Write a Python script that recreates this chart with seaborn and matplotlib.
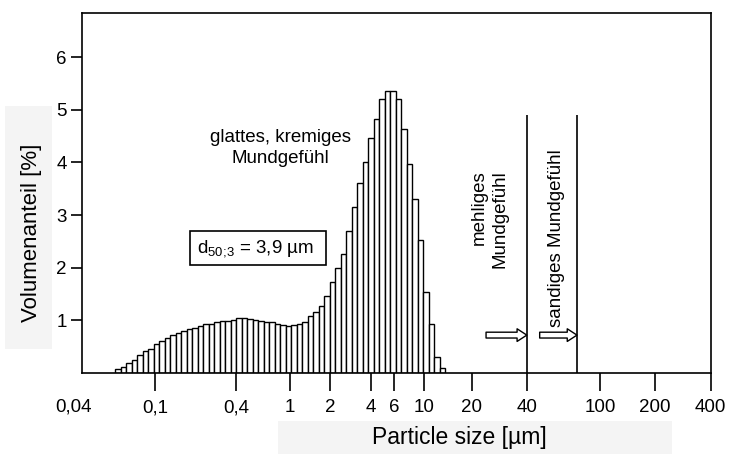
#-------------------------------------
# Particle size distribution (volume %)
# with mouthfeel regions
#-------------------------------------

#%%
import numpy as np
import pandas as pd
import matplotlib.pyplot as plt
from matplotlib.patches import Rectangle
import seaborn as sns

sns.set_theme(style = 'white')
plt.rcParams['font.family'] = ['Liberation Sans', 'DejaVu Sans']
plt.rcParams['mathtext.fontset'] = 'custom'
plt.rcParams['mathtext.rm'] = 'Liberation Sans'
plt.rcParams['mathtext.it'] = 'Liberation Sans:italic'

#%%

# Data: volume fraction per size class

volume = [0.08, 0.12, 0.19, 0.25, 0.34, 0.41, 0.45, 0.55, 0.60, 0.67,
          0.72, 0.76, 0.79, 0.83, 0.86, 0.90, 0.93, 0.93, 0.96, 0.98,
          0.98, 1.01, 1.04, 1.05, 1.02, 1.00, 0.98, 0.96, 0.96, 0.93,
          0.91, 0.90, 0.91, 0.93, 0.96, 1.09, 1.15, 1.28, 1.47, 1.73,
          1.99, 2.27, 2.69, 3.15, 3.61, 4.01, 4.47, 4.83, 5.20, 5.35,
          5.35, 5.20, 4.64, 3.98, 3.31, 2.53, 1.54, 0.93, 0.31, 0.09]

size_min = 0.05     # lower edge of first size class [µm]
size_max = 14.4     # upper edge of last size class [µm]

feel_limits = [40, 75]          # mehlig / sandig thresholds [µm]
arrow_starts = [24, 47]

x_ticks = [0.1, 0.4, 1, 2, 4, 6, 10, 20, 40, 100, 200, 400]
x_labels = ['0,1', '0,4', '1', '2', '4', '6', '10', '20', '40', '100', '200', '400']
y_ticks = [1, 2, 3, 4, 5, 6]

edges = np.geomspace(size_min, size_max, len(volume) + 1)
centers = np.sqrt(edges[:-1] * edges[1:])
d = pd.DataFrame({'size': centers, 'volume': volume})

#%%

# Axis is logarithmic up to the end of the distribution, then stretched

lb = np.log10(size_max)
k = 1.368

def fwd(x):
    lx = np.log10(np.maximum(x, 1e-300))
    return np.where(lx <= lb, lx, lb + k * (lx - lb))

def inv(y):
    return np.where(y <= lb, 10.0 ** y, 10.0 ** (lb + (y - lb) / k))

#%%

# Make plot (histogram binned on the linear axis, scale switched afterwards)

fig = plt.figure(figsize = (7.31, 4.54), dpi = 100)
ax = fig.add_axes([0.1122, 0.1784, 0.8598, 0.7930])

sns.histplot(data = d, x = 'size', weights = 'volume', bins = edges.tolist(), color = 'white',
             edgecolor = 'black', linewidth = 1.0, alpha = 1, ax = ax)

ax.set_xscale('function', functions = (fwd, inv))

ax.vlines(feel_limits, 0, 4.9, color = 'black', lw = 1.2)

for start, stop in zip(arrow_starts, feel_limits):
    ax.annotate('', xy = (stop, 0.72), xytext = (start, 0.72),
                arrowprops = dict(arrowstyle = 'simple,head_length=1.0,head_width=1.3,tail_width=0.6',
                                  fc = 'white', ec = 'black', lw = 1.0, mutation_scale = 7,
                                  shrinkA = 0, shrinkB = 0))

ax.set_xlim(0.0284, 400)
ax.set_ylim(0, 6.84)
ax.set_xticks(x_ticks)
ax.set_xticklabels(x_labels)
ax.set_yticks(y_ticks)
ax.minorticks_off()

ax.tick_params(axis = 'x', bottom = True, direction = 'out', length = 13, width = 1.2,
               pad = 6, labelsize = 13.5, colors = 'black')
ax.tick_params(axis = 'y', left = True, direction = 'out', length = 8, width = 1.2,
               pad = 3, labelsize = 13.5, colors = 'black')
for s in ax.spines.values():
    s.set_color('black')
    s.set_linewidth(1.2)

ax.text(-0.013, -0.07, '0,04', transform = ax.transAxes, ha = 'center', va = 'top',
        fontsize = 13.5, color = 'black')

# Annotations

ax.text(0.857, 4.27, 'glattes, kremiges\nMundgefühl', ha = 'center', va = 'center',
        fontsize = 13.5, color = 'black', linespacing = 1.3)
ax.text(0.2025, 2.37, r'd$_{\mathregular{50;\!3}}$ = 3,9 µm  ', ha = 'left', va = 'center',
        fontsize = 13.5, color = 'black',
        bbox = dict(boxstyle = 'square,pad=0.35', fc = 'white', ec = 'black', lw = 1.2))
ax.text(25, 2.92, 'mehliges\nMundgefühl', rotation = 90, ha = 'center', va = 'center',
        multialignment = 'right', fontsize = 13.5, color = 'black', linespacing = 1.3)
ax.text(58, 2.56, 'sandiges Mundgefühl', rotation = 90, ha = 'center', va = 'center',
        fontsize = 13.5, color = 'black')

# Axis labels on light grey panels

fig.add_artist(Rectangle((5 / 731, 1 - 349 / 454), 47 / 731, 243 / 454,
                         transform = fig.transFigure, fc = '#f4f4f4', ec = 'none', zorder = 0))
fig.add_artist(Rectangle((278 / 731, 0), 394 / 731, 33 / 454,
                         transform = fig.transFigure, fc = '#f4f4f4', ec = 'none', zorder = 0))

ax.set_xlabel('Particle size [µm]', fontsize = 16.5, color = 'black')
ax.set_ylabel('Volumenanteil [%]', fontsize = 16, color = 'black')
ax.xaxis.set_label_coords(0.601, -0.178)
ax.yaxis.set_label_coords(-0.081, 0.39)
ax.xaxis.label.set_va('center')
ax.yaxis.label.set_va('center')

plt.savefig('out.png', dpi = 100)
